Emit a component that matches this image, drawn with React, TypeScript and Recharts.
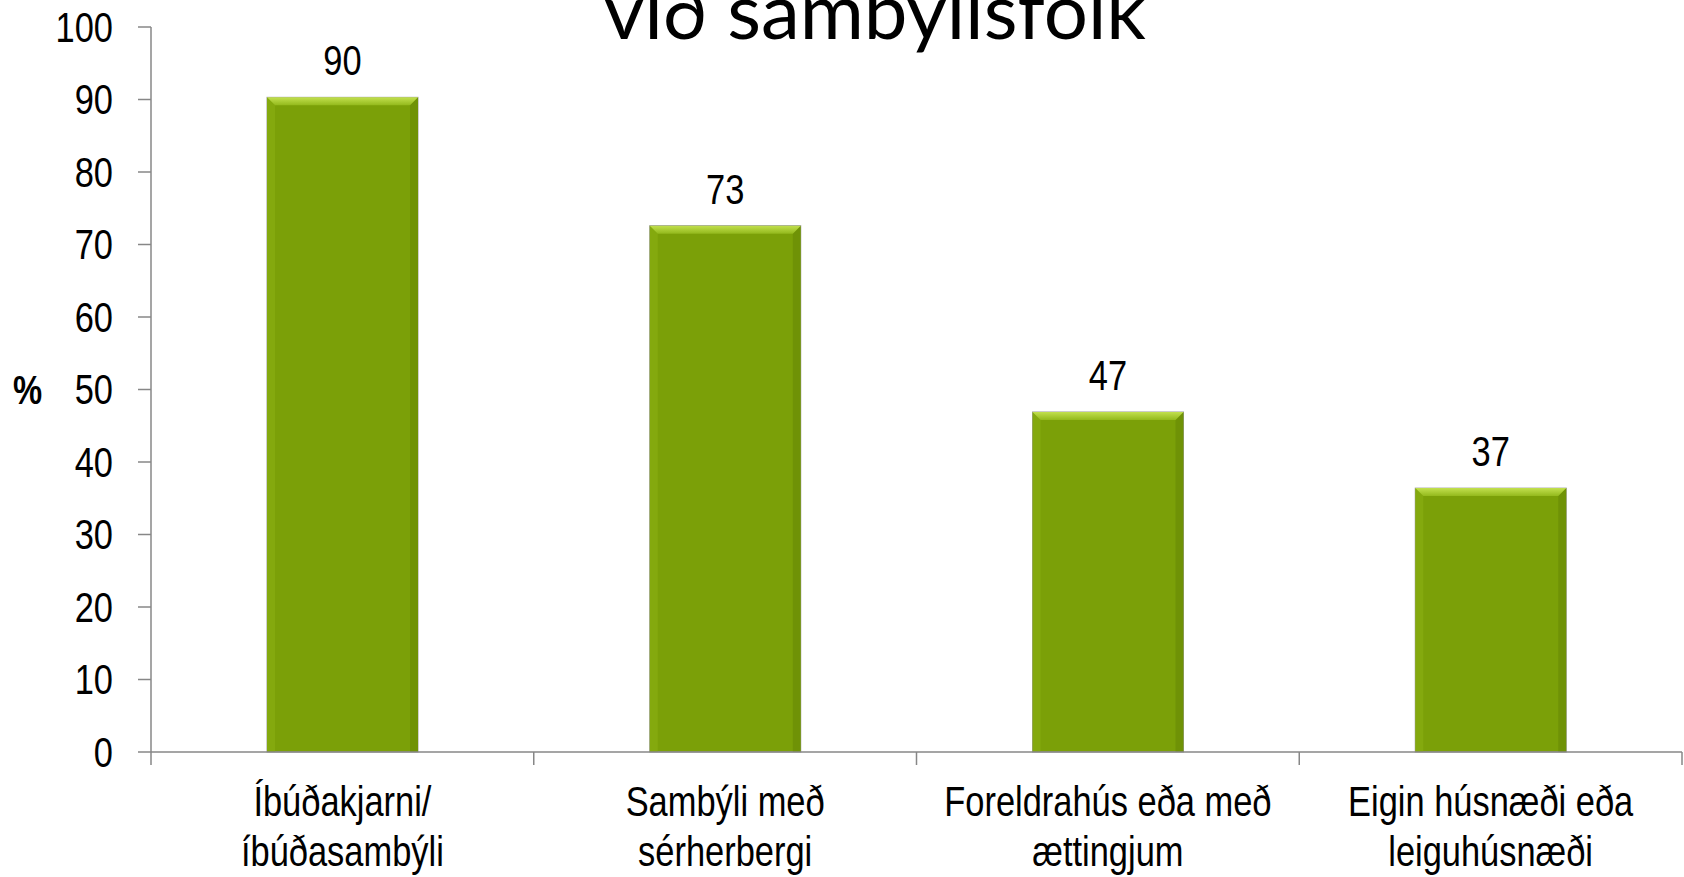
import React from "react";
import { BarChart, Bar, XAxis, YAxis, LabelList } from "recharts";

const categories = [
  "Íbúðakjarni/\níbúðasambýli",
  "Sambýli með\nsérherbergi",
  "Foreldrahús eða með\nættingjum",
  "Eigin húsnæði eða\nleiguhúsnæði",
];
const values = [90.3, 72.6, 46.9, 36.4];
const valueLabels = ["90", "73", "47", "37"];
const yTicks = [0, 10, 20, 30, 40, 50, 60, 70, 80, 90, 100];

const data = categories.map((name, i) => ({ name, value: values[i], label: valueLabels[i] }));

// no Arial Narrow here, so squeeze Liberation Sans (Arial metrics) horizontally
const FONT = "'Liberation Sans', Arial, sans-serif";
const SQUEEZE = 0.82;
const AXIS = "#878787";

function Narrow({ x, y, anchor = "middle", size = 42, bold = false, dy = 0, children }: any) {
  return (
    <text
      transform={`translate(${x},${y}) scale(${SQUEEZE},1)`}
      textAnchor={anchor}
      dy={dy}
      fontFamily={FONT}
      fontSize={size}
      fontWeight={bold ? "bold" : "normal"}
      fill="#000"
    >
      {children}
    </text>
  );
}

function BevelBar(props: any) {
  const { x, y, width: w, height: h } = props;
  const b = 8;
  return (
    <g>
      <defs>
        <linearGradient id="bevTop" x1="0" y1="0" x2="0" y2="1">
          <stop offset="0" stopColor="#c2e04e" />
          <stop offset="1" stopColor="#93b91c" />
        </linearGradient>
      </defs>
      <rect x={x} y={y} width={w} height={h} fill="#7ba008" stroke="#a0a0a0" strokeWidth={1} />
      <polygon points={`${x},${y} ${x + b},${y + b} ${x + b},${y + h} ${x},${y + h}`} fill="#84a90e" />
      <polygon points={`${x + w},${y} ${x + w - b},${y + b} ${x + w - b},${y + h} ${x + w},${y + h}`} fill="#6f9206" />
      <polygon points={`${x},${y} ${x + w},${y} ${x + w - b},${y + b} ${x + b},${y + b}`} fill="url(#bevTop)" />
    </g>
  );
}

function CatTick(props: any) {
  const { x, y, payload, index, width, visibleTicksCount } = props;
  const band = width / (visibleTicksCount || categories.length);
  const lines = String(payload.value).split("\n");
  return (
    <g>
      <line x1={x - band / 2} x2={x - band / 2} y1={y} y2={y + 13} stroke={AXIS} strokeWidth={1.5} />
      {index === categories.length - 1 && (
        <line x1={x + band / 2} x2={x + band / 2} y1={y} y2={y + 13} stroke={AXIS} strokeWidth={1.5} />
      )}
      {lines.map((l, i) => (
        <Narrow key={i} x={x} y={y + 64 + i * 50}>
          {l}
        </Narrow>
      ))}
    </g>
  );
}

function YTick(props: any) {
  const { x, y, payload } = props;
  return (
    <Narrow x={x} y={y} anchor="end" dy="0.355em">
      {payload.value}
    </Narrow>
  );
}

function ValueLabel(props: any) {
  const { x, y, width, value } = props;
  return (
    <Narrow x={x + width / 2} y={y - 22}>
      {value}
    </Narrow>
  );
}

function PctLabel(props: any) {
  const { viewBox } = props;
  return (
    <Narrow x={viewBox.x + 13} y={viewBox.y + viewBox.height / 2} anchor="start" dy="0.355em" size={40} bold>
      %
    </Narrow>
  );
}

export default function App() {
  return (
    <div style={{ position: "absolute", left: 0, top: 0, width: 1684, height: 877, background: "#fff" }}>
      <BarChart width={1684} height={877} data={data} margin={{ top: 27, right: 2, bottom: 0, left: 0 }}>
        <XAxis
          dataKey="name"
          height={125}
          tickSize={0}
          tickMargin={0}
          tickLine={false}
          axisLine={{ stroke: AXIS, strokeWidth: 1.5 }}
          interval={0}
          tick={<CatTick />}
        />
        <YAxis
          width={151}
          domain={[0, 100]}
          ticks={yTicks}
          interval={0}
          tickSize={13}
          tickMargin={25}
          axisLine={{ stroke: AXIS, strokeWidth: 1.5 }}
          tickLine={{ stroke: AXIS, strokeWidth: 1.5 }}
          tick={<YTick />}
          label={<PctLabel />}
        />
        <Bar dataKey="value" barSize={151} shape={<BevelBar />} isAnimationActive={false}>
          <LabelList dataKey="label" content={<ValueLabel />} />
        </Bar>
      </BarChart>
      <svg width={1684} height={877} style={{ position: "absolute", left: 0, top: 0, pointerEvents: "none" }}>
        <text x={875} y={39} textAnchor="middle" fontFamily="Lato, 'Open Sans', sans-serif" fontSize={78} fill="#000">
          við sambýlisfólk
        </text>
      </svg>
    </div>
  );
}
